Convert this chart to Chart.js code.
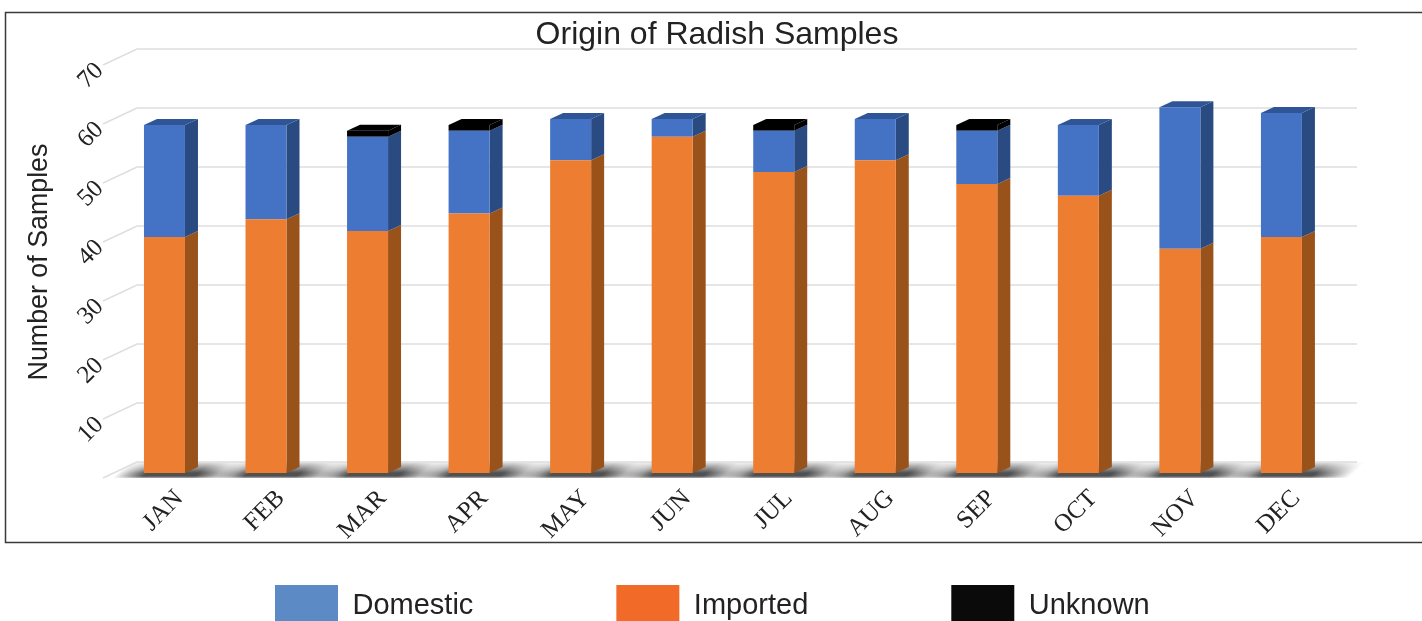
<!DOCTYPE html>
<html><head><meta charset="utf-8">
<style>html,body{margin:0;padding:0;background:#fff;overflow:hidden}canvas{display:block}</style>
<script src="https://cdn.jsdelivr.net/npm/chart.js@4"></script>
</head><body><canvas id="c" width="1422" height="621"></canvas>
<script>
const months = ['JAN','FEB','MAR','APR','MAY','JUN','JUL','AUG','SEP','OCT','NOV','DEC'];
const imported = [40,43,41,44,53,57,51,53,49,47,38,40];
const domestic = [19,16,16,14,7,3,7,7,9,12,24,21];
const unknown  = [0,0,1,1,0,0,1,0,1,0,0,0];
const legendNames = ['Domestic','Imported','Unknown'];
const legendColors = ['#5B8AC4','#F26A27','#0A0A0A'];
const faceColors = {Imported:['#ED7D31','#9A521B','#B5611F'],Domestic:['#4472C4','#2A4A82','#2F5597'],Unknown:['#000000','#000000','#000000']};
const DX=13, DY=6, WALL_L=137, WALL_R=1357, FRONT_X=103;

const scene = {
  id:'scene',
  afterLayout(chart){
    const t=chart.titleBlock; t.left=12; t.right=1422;
    const y=chart.scales.y; y.bottom=y.top+404;
    const l=chart.legend; l.left=132; l.right=1422; l.width=1290; l.top=580; l.bottom=632; l.height=52;
  },
  beforeDraw(chart){
    const c=chart.ctx, ys=chart.scales.y, base=ys.getPixelForValue(0);
    c.save();
    c.strokeStyle='#3a3a3a'; c.lineWidth=1.5;
    c.beginPath(); c.moveTo(1422,12.5); c.lineTo(5.5,12.5); c.lineTo(5.5,542.5); c.lineTo(1422,542.5); c.stroke();
    // floor shadow under each bar, slanted with the floor
    const y0=base-11, y1=base+5, k=18/16;
    c.save();
    c.transform(1,0,-k,1,0,0);
    const s=k*y1;
    chart.getDatasetMeta(0).data.forEach(b=>{
      const l=b.x-b.width/2, r=b.x+b.width/2, a=l+s-32, w=r-l+78;
      const g=c.createLinearGradient(a,0,a+w,0);
      g.addColorStop(0,'rgba(80,80,80,0)');
      g.addColorStop(.25,'rgba(80,80,80,1)');
      g.addColorStop(.68,'rgba(80,80,80,1)');
      g.addColorStop(1,'rgba(80,80,80,0)');
      c.fillStyle=g;
      c.fillRect(a,y0,w,y1-y0);
    });
    c.restore();
    const v=c.createLinearGradient(0,y0,0,y0+11);
    v.addColorStop(0,'rgba(255,255,255,.85)');
    v.addColorStop(1,'rgba(255,255,255,0)');
    c.fillStyle=v; c.fillRect(100,y0,1300,11);
    const b2=c.createLinearGradient(0,y1-2,0,y1+1);
    b2.addColorStop(0,'rgba(255,255,255,0)');
    b2.addColorStop(1,'rgba(255,255,255,.8)');
    c.fillStyle=b2; c.fillRect(100,y1-2,1300,3);
    // grid on the back wall and left wall
    c.strokeStyle='#dedede'; c.lineWidth=1.4;
    ys.ticks.forEach(t=>{
      const py=ys.getPixelForValue(t.value);
      c.beginPath(); c.moveTo(FRONT_X,py+5); c.lineTo(WALL_L,py-11); c.lineTo(WALL_R,py-11); c.stroke();
    });
    c.restore();
  },
  beforeDatasetsDraw(chart){
    const c=chart.ctx;
    chart.data.datasets.forEach((ds,i)=>{
      const cols=faceColors[ds.label];
      chart.getDatasetMeta(i).data.forEach((b,k)=>{
        if(!ds.data[k]) return;
        const r=b.x+b.width/2, l=b.x-b.width/2;
        c.fillStyle=cols[1];
        c.beginPath(); c.moveTo(r,b.y); c.lineTo(r+DX,b.y-DY); c.lineTo(r+DX,b.base-DY); c.lineTo(r,b.base); c.closePath(); c.fill();
        const above=chart.data.datasets.slice(i+1).some(d=>d.data[k]);
        if(!above){
          c.fillStyle=cols[2];
          c.beginPath(); c.moveTo(l,b.y); c.lineTo(l+DX,b.y-DY); c.lineTo(r+DX,b.y-DY); c.lineTo(r,b.y); c.closePath(); c.fill();
        }
      });
    });
  }
};

new Chart(document.getElementById('c'),{
  type:'bar',
  plugins:[scene],
  data:{labels:months,datasets:[
    {label:'Imported',data:imported,backgroundColor:faceColors.Imported[0],clip:false},
    {label:'Domestic',data:domestic,backgroundColor:faceColors.Domestic[0],clip:false},
    {label:'Unknown',data:unknown,backgroundColor:faceColors.Unknown[0],clip:false}
  ]},
  options:{
    responsive:false,animation:false,
    barPercentage:41/101.55,categoryPercentage:1,
    layout:{padding:{right:89.8}},
    plugins:{
      tooltip:{enabled:false},
      title:{display:true,text:'Origin of Radish Samples',color:'#222',
        font:{family:'"Liberation Sans"',size:32,weight:'normal'},padding:{top:16,bottom:5.6}},
      legend:{display:true,position:'chartArea',align:'center',
        labels:{boxWidth:63,boxHeight:42,padding:143,color:'#222',
          font:{family:'"Liberation Sans"',size:29},
          generateLabels:()=>legendNames.map((n,i)=>({text:n,fillStyle:legendColors[i],strokeStyle:legendColors[i],lineWidth:0,fontColor:'#222'}))}}
    },
    scales:{
      x:{stacked:true,grid:{display:false},border:{display:false},
        ticks:{color:'#222',autoSkip:false,minRotation:45,maxRotation:45,padding:3,labelOffset:15,
          font:{family:'"Liberation Serif"',size:25}},
        afterFit(s){s.height=621-473;s.paddingLeft=0;s.paddingRight=0;}},
      y:{stacked:true,min:0,max:70,grid:{display:false},border:{display:false},
        title:{display:true,text:'Number of Samples',color:'#222',
          font:{family:'"Liberation Sans"',size:26.8},padding:{top:24,bottom:0}},
        ticks:{stepSize:10,color:'#222',padding:6,labelOffset:7,minRotation:45,maxRotation:45,
          font:{family:'"Liberation Serif"',size:25},
          callback:v=>v===0?'':String(v)},
        afterFit(s){s.width=113.7;s.paddingTop=0;s.paddingBottom=0;}}
    }
  }
});
</script></body></html>
